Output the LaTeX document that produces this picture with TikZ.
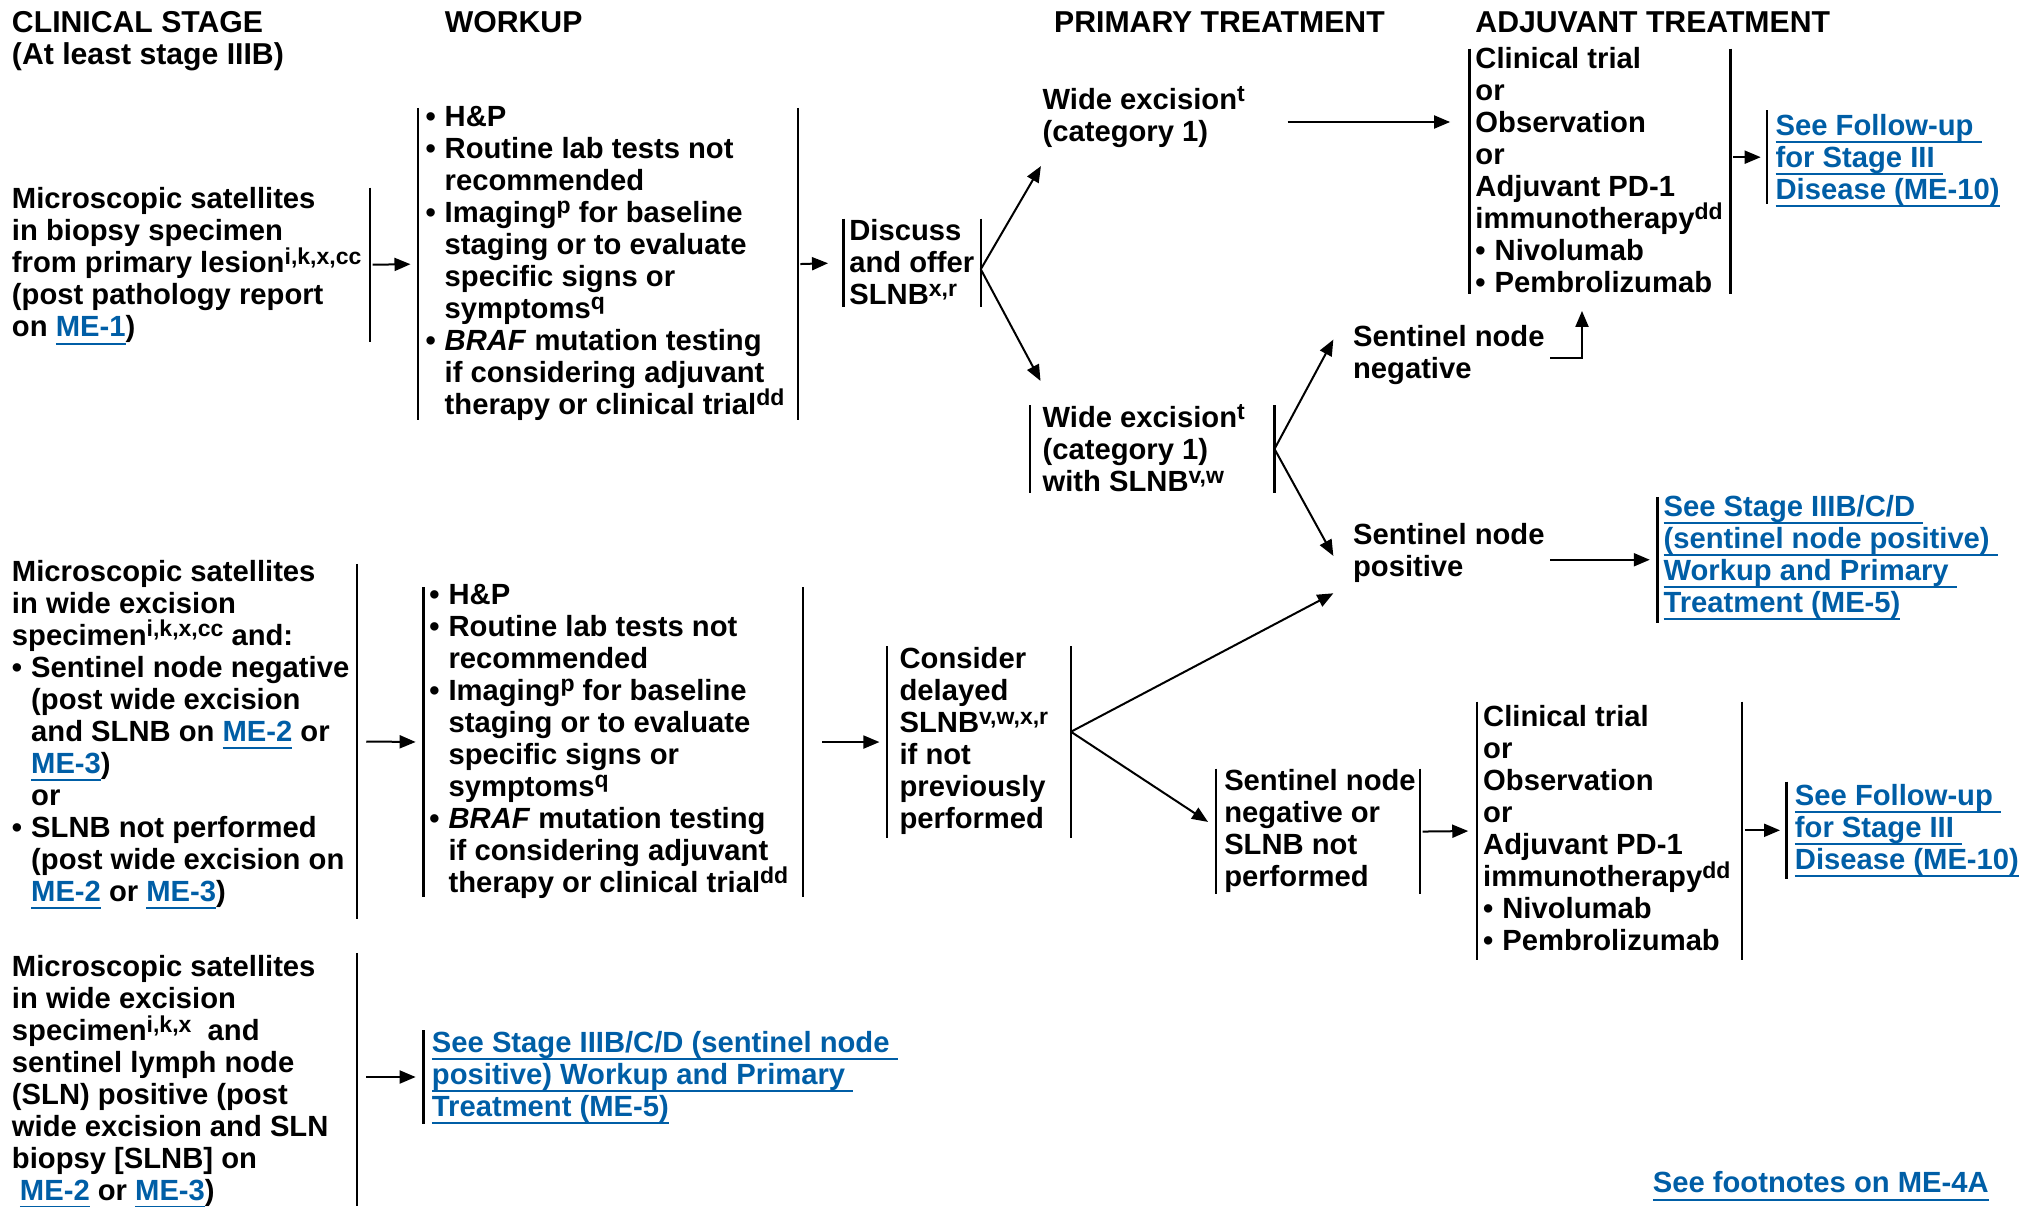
\documentclass[tikz,border=0pt]{standalone}
\usepackage{fontspec}
\setmainfont{Liberation Sans}
\usetikzlibrary{arrows.meta,fit}
\definecolor{lnk}{RGB}{0,94,166}
\newcommand\bul{\makebox[9.6pt][l]{\textbullet}}
\newcommand\ind{\hspace*{9.6pt}}
\newcommand\lnk[1]{{\color{lnk}\setbox0=\hbox{#1}\rlap{\rule[-3.9pt]{\wd0}{1pt}}\box0}}
\newcommand\tsup[1]{\raisebox{4.2pt}{\fontsize{11.5}{11.5}\selectfont #1}}
\begin{document}
\begin{tikzpicture}[x=0.6441pt,y=-0.6441pt,
  every node/.style={inner sep=0pt},
  txt/.style={anchor=base west, align=left, font=\fontsize{14.6}{16}\selectfont\bfseries},
  hdr/.style={anchor=base west, align=left, font=\fontsize{15.1}{16.1}\selectfont\bfseries},
  frm/.style={inner sep=0pt, draw=none},
  bl/.style={line width=1.2pt},
  arr/.style={line width=1pt, -{Triangle[length=8pt,width=6.5pt]}},
]
\useasboundingbox (0,0) rectangle (1568,936.2);
% headers (anchor = baseline of last line)
\node[hdr] (h1) at (9,50) {CLINICAL STAGE\\(At least stage IIIB)};
\node[hdr] (h2) at (345,25) {WORKUP};
\node[hdr] (h3) at (818,25) {PRIMARY TREATMENT};
\node[hdr] (h4) at (1145,25) {ADJUVANT TREATMENT};

% ---------- top row ----------
\node[txt] (t1) at (9,261.4) {Microscopic satellites\\in biopsy specimen\\from primary lesion\tsup{i,k,x,cc}\\(post pathology report\\on \lnk{ME-1})};
\node[frm, fit={(9,146) (287,265)}] (f1) {};

\node[txt] (w1) at (330,321.6) {\bul H\&P\\
\bul Routine lab tests not\\
\ind recommended\\
\bul Imaging\tsup{p} for baseline\\
\ind staging or to evaluate\\
\ind specific signs or\\
\ind symptoms\tsup{q}\\
\bul \textit{BRAF} mutation testing\\
\ind if considering adjuvant\\
\ind therapy or clinical trial\tsup{dd}};
\node[frm, fit={(325,84) (619,326)}] (fw1) {};

\node[txt] (d1) at (659,236.7) {Discuss\\and offer\\SLNB\tsup{x,r}};
\node[frm, fit={(655,170) (761,238)}] (fd) {};

\node[txt] (we1) at (809,109.8) {Wide excision\tsup{t}\\(category 1)};

\node[txt] (a1) at (1145,226.9) {Clinical trial\\or\\Observation\\or\\Adjuvant PD-1\\immunotherapy\tsup{dd}\\\bul Nivolumab\\\bul Pembrolizumab};
\node[frm, fit={(1141,38) (1343,228)}] (fa1) {};

\node[txt] (l1) at (1378,154.7) {\lnk{See Follow-up }\\\lnk{for Stage III }\\\lnk{Disease (ME-10)}};
\node[frm, fit={(1372,86) (1552,158)}] (fl1) {};

\node[txt] (we2) at (809,381.7) {Wide excision\tsup{t}\\(category 1)\\with SLNB\tsup{v,w}};
\node[frm, fit={(800,315) (989,382)}] (fwe2) {};

\node[txt] (sn1) at (1050,293.8) {Sentinel node\\negative};
\node[txt] (sp) at (1050,447.8) {Sentinel node\\positive};

\node[txt] (l2) at (1291,475.5) {\lnk{See Stage IIIB/C/D }\\\lnk{(sentinel node positive) }\\\lnk{Workup and Primary }\\\lnk{Treatment (ME-5)}};
\node[frm, fit={(1287,386) (1550,483)}] (fl2) {};

% ---------- middle row ----------
\node[txt] (t2) at (9,699.4) {Microscopic satellites\\in wide excision\\specimen\tsup{i,k,x,cc} and:\\
\bul Sentinel node negative\\
\ind (post wide excision\\
\ind and SLNB on \lnk{ME-2} or\\
\ind \lnk{ME-3})\\
\ind or\\
\bul SLNB not performed\\
\ind (post wide excision on\\
\ind \lnk{ME-2} or \lnk{ME-3})};
\node[frm, fit={(9,438) (277,713)}] (f2) {};

\node[txt] (w2) at (333,692.6) {\bul H\&P\\
\bul Routine lab tests not\\
\ind recommended\\
\bul Imaging\tsup{p} for baseline\\
\ind staging or to evaluate\\
\ind specific signs or\\
\ind symptoms\tsup{q}\\
\bul \textit{BRAF} mutation testing\\
\ind if considering adjuvant\\
\ind therapy or clinical trial\tsup{dd}};
\node[frm, fit={(329,456) (623,696)}] (fw2) {};

\node[txt] (c1) at (698,643.2) {Consider\\delayed\\SLNB\tsup{v,w,x,r}\\if not\\previously\\performed};
\node[frm, fit={(689,502) (831,650)}] (fc) {};

\node[txt] (snn) at (950,688.5) {Sentinel node\\negative or\\SLNB not\\performed};
\node[frm, fit={(944,597) (1102,694)}] (fsn) {};

\node[txt] (a2) at (1151,737.9) {Clinical trial\\or\\Observation\\or\\Adjuvant PD-1\\immunotherapy\tsup{dd}\\\bul Nivolumab\\\bul Pembrolizumab};
\node[frm, fit={(1147,545) (1352,745)}] (fa2) {};

\node[txt] (l3) at (1393,674.7) {\lnk{See Follow-up }\\\lnk{for Stage III }\\\lnk{Disease (ME-10)}};
\node[frm, fit={(1387,607) (1566,682)}] (fl3) {};

% ---------- bottom row ----------
\node[txt] (t3) at (9,931.9) {Microscopic satellites\\in wide excision\\specimen\tsup{i,k,x}\ \ and\\sentinel lymph node\\(SLN) positive (post\\wide excision and SLN\\biopsy [SLNB] on\\\hspace*{4pt}\lnk{ME-2} or \lnk{ME-3})};
\node[frm, fit={(9,740) (277,936)}] (f3) {};

\node[txt] (l4) at (335,866.7) {\lnk{See Stage IIIB/C/D (sentinel node }\\\lnk{positive) Workup and Primary }\\\lnk{Treatment (ME-5)}};
\node[frm, fit={(329,800) (698,872)}] (fl4) {};

\node[txt, anchor=base east] (fn) at (1544,926) {\lnk{See footnotes on ME-4A}};

% ---------- bracket lines ----------
\foreach \n in {fw1,fd,fa1,fwe2,fw2,fc,fsn,fa2}
  \draw[bl] (\n.north west) -- (\n.south west) (\n.north east) -- (\n.south east);
\foreach \n in {f1,f2,f3}
  \draw[bl] (\n.north east) -- (\n.south east);
\foreach \n in {fl1,fl2,fl3,fl4}
  \draw[bl] (\n.north west) -- (\n.south west);

% ---------- connectors ----------
\draw[arr, shorten <=1.3pt, shorten >=3.9pt] (f1.east) -- (fw1.west);
\draw[arr, shorten <=1.3pt, shorten >=7.7pt] (fw1.east) -- (fd.west);
\draw[arr] ([shift={(0,5)}]fd.east) -- ([shift={(-1,14)}]we1.south west);
\draw[arr] ([shift={(0,5)}]fd.east) -- ([shift={(8,-19)}]fwe2.north west);
\coordinate (we1a) at ([shift={(33,4)}]we1.east);
\draw[arr, shorten >=9.7pt] (we1a) -- (fa1.west |- we1a);
\draw[arr, shorten <=1.3pt, shorten >=3.2pt] (fa1.east |- fl1.west) -- (fl1.west);
\draw[arr] (fwe2.east) -- ([shift={(-15,-12)}]sn1.west);
\draw[arr] (fwe2.east) -- ([shift={(-15,2)}]sp.west);
\draw[arr, shorten >=8.4pt] ([shift={(4,2)}]sn1.east) -| ([shift={(-14,0)}]fa1.south);
\draw[arr, shorten <=2.6pt, shorten >=3.9pt] (sp.east |- fl2.west) -- (fl2.west);

\draw[arr, shorten <=4.5pt, shorten >=3.9pt] (f2.east) -- (fw2.west);
\draw[arr, shorten <=9.7pt, shorten >=3.9pt] (fw2.east) -- (fc.west);
\draw[arr] ([shift={(0,-8)}]fc.east) -- ([shift={(-15,31)}]sp.west);
\draw[arr] ([shift={(0,-8)}]fc.east) -- ([shift={(-6,-7.5)}]fsn.west);
\draw[arr, shorten <=1.3pt, shorten >=4.5pt] (fsn.east) -- (fa2.west);
\draw[arr, shorten <=1.3pt, shorten >=3.2pt] (fa2.east |- fl3.west) -- (fl3.west);
\draw[arr, shorten <=4.5pt, shorten >=3.9pt] (f3.east |- fl4.west) -- (fl4.west);
\end{tikzpicture}
\end{document}
